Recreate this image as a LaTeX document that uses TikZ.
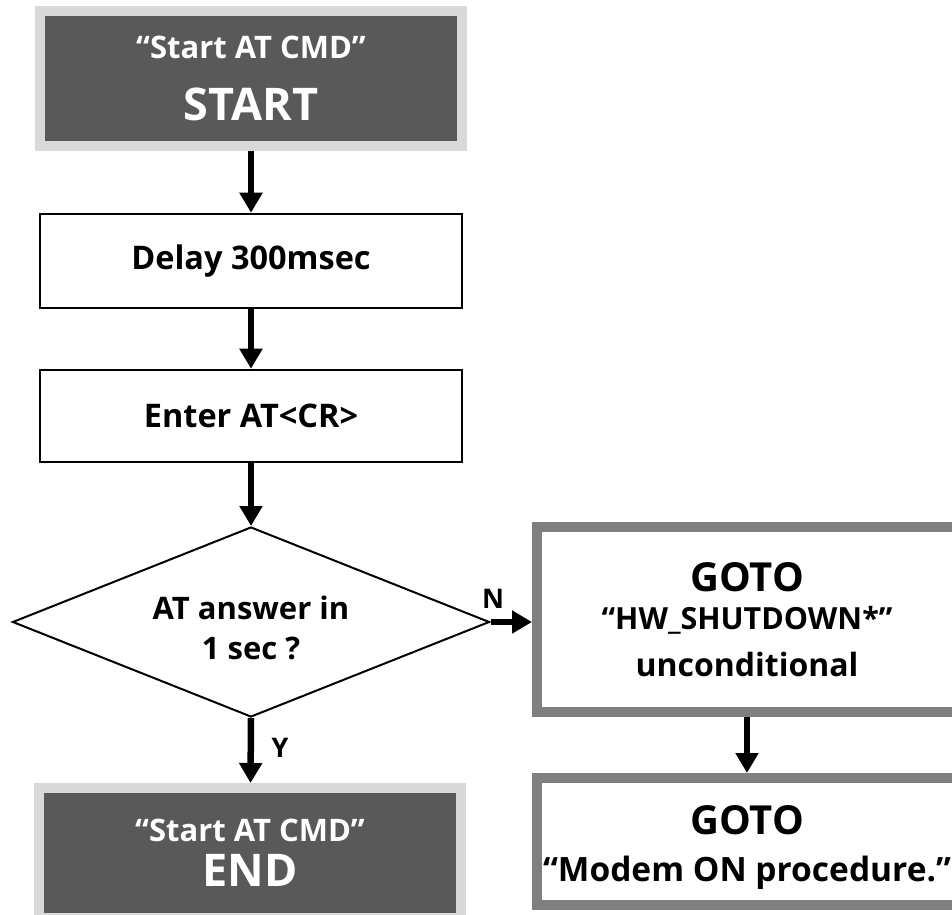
\documentclass[tikz,border=0pt]{standalone}
\usepackage{fontspec}
\setmainfont{Open Sans}
\usetikzlibrary{arrows.meta,shapes.geometric}
\definecolor{darkbox}{HTML}{595959}
\definecolor{lightrim}{HTML}{D9D9D9}
\definecolor{gotorim}{HTML}{7F7F7F}

\begin{document}
\begin{tikzpicture}[x=1pt,y=1pt,
  termbox/.style={fill=darkbox,draw=lightrim,line width=10pt,text=white,
    minimum width=422pt,align=center,inner sep=0pt},
  stepbox/.style={draw=black,line width=2.5pt,minimum width=422pt,align=center,
    font=\fontsize{32.5}{38}\selectfont\bfseries},
  gotobox/.style={draw=gotorim,line width=10pt,fill=white,minimum width=420pt,
    align=center,inner sep=0pt},
  flow/.style={line width=6.5pt,-{Triangle[width=22pt,length=20pt]}},
  yn/.style={font=\fontsize{27}{30}\selectfont\bfseries}]
\useasboundingbox (0,0) rectangle (952,914);
\node[termbox,minimum height=135.5pt,font=\fontsize{31}{62}\selectfont\bfseries]
  (start) at (251,835.5)
  {“Start AT CMD”\\ \fontsize{45}{62}\selectfont START};
\node[stepbox,minimum height=94pt] (delay) at (251,653) {Delay 300msec};
\node[stepbox,minimum height=92pt] (enter) at (251,498) {Enter AT<CR>};
\node[draw,shape=diamond,line width=2pt,inner sep=0pt,aspect=2.5,
  minimum width=477pt,minimum height=190pt,align=center,
  font=\fontsize{31}{40}\selectfont\bfseries] (answer) at (251,292)
  {\rule{0pt}{35pt}AT answer in\\1 sec ?};
\node[termbox,minimum height=130pt,font=\fontsize{31}{45}\selectfont\bfseries]
  (end) at (250,61)
  {“Start AT CMD”\\ \fontsize{45}{45}\selectfont END};
\node[gotobox,minimum height=185pt,font=\fontsize{31}{38}\selectfont\bfseries]
  (shutdown) at (747,294.5)
  {\fontsize{40}{38}\selectfont GOTO\\
   \fontsize{30.5}{38}\selectfont “HW\_SHUTDOWN*”\\[9pt]
   \fontsize{32}{38}\selectfont unconditional};
\node[gotobox,minimum height=127pt,
  font=\fontsize{33.5}{47}\selectfont\bfseries] (modemon) at (747,72.5)
  {\fontsize{40}{47}\selectfont\rule{0pt}{42pt}GOTO\\ “Modem ON procedure.”};
\draw[flow] (start) -- (delay);
\draw[flow] (delay) -- (enter);
\draw[flow] (enter) -- (answer.north);
\draw[flow] (answer.east) -- (answer.east -| shutdown.west);
\draw[flow] (answer.south) -- (end);
\draw[flow] (shutdown) -- (modemon);
\node[yn] (no) at (493,315) {N};
\node[yn] (yes) at (280,166) {Y};
\end{tikzpicture}
\end{document}
